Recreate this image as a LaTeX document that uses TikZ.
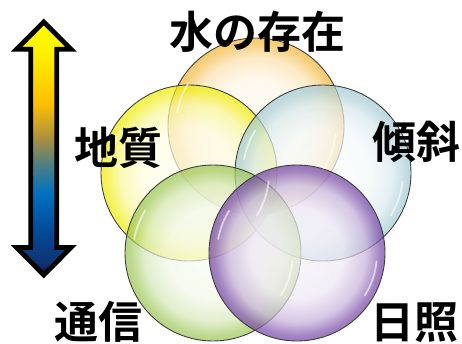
\documentclass[tikz,border=0pt]{standalone}
\usepackage{fontspec}
\newfontfamily\jpfont{Noto Sans CJK JP}[UprightFont=* Bold]
\usepackage{tikz}
\usetikzlibrary{positioning, shapes}
\usepackage{xcolor}

\definecolor{rimcol}{HTML}{F5B840}
\pgfdeclareradialshading[rimcol]{bubble}{\pgfpointorigin}{%
  color(0bp)=(rimcol!6!white); color(13bp)=(rimcol!12!white);
  color(19.5bp)=(rimcol!40!white); color(23.5bp)=(rimcol!90!white);
  color(25bp)=(rimcol); color(50bp)=(rimcol)}
\pgfdeclareverticalshading{arrowgrad}{100bp}{%
  color(0bp)=(black!70!blue); color(25bp)=(black!70!blue);
  color(27bp)=(rgb,255:red,16;green,48;blue,112);
  color(35bp)=(rgb,255:red,0;green,80;blue,160);
  color(41bp)=(rgb,255:red,0;green,112;blue,192);
  color(47bp)=(rgb,255:red,80;green,128;blue,128);
  color(52bp)=(rgb,255:red,168;green,144;blue,64);
  color(59bp)=(rgb,255:red,255;green,192;blue,0);
  color(69bp)=(rgb,255:red,255;green,240;blue,0);
  color(75bp)=(yellow); color(100bp)=(yellow)}

\tikzset{
  bubble/.style={circle, minimum size=176pt, inner sep=0pt, outer sep=0pt,
    /utils/exec={\colorlet{rimcol}{#1}}, shade, shading=bubble,
    fill opacity=0.7, draw=black!75, line width=0.9pt},
  gloss/.style={white, line width=1.8pt, line cap=round, opacity=0.6},
  term/.style={font=\jpfont\fontsize{44}{48}\selectfont, inner sep=0pt}
}

\begin{document}
\begin{tikzpicture}[x=1pt, y=1pt]
    \useasboundingbox (0,0) rectangle (462,343);

    % Arrow
    \shadedraw[shading=arrowgrad, line width=4.8pt, line join=miter]
        (43.8,321) -- (71,293.8) -- (56.8,293.8) -- (56.8,95.5) -- (71,95.5)
        -- (43.8,68) -- (16.6,95.5) -- (30.8,95.5) -- (30.8,293.8)
        -- (16.6,293.8) -- cycle;

    % Circles
    \node[bubble={rgb,255:red,245;green,180;blue,50}] (water) at (256,217) {};
    \node[bubble={rgb,255:red,240;green,236;blue,0}] (geology) at (189,170) {};
    \node[bubble={rgb,255:red,160;green,200;blue,210}] (tilt) at (323,170) {};
    \node[bubble={rgb,255:red,150;green,195;blue,75}] (comm) at (213,90) {};
    \node[bubble={rgb,255:red,110;green,60;blue,160}] (sun) at (297,90) {};

    % Gloss
    \foreach \n in {water, geology, tilt, comm, sun} {
        \draw[gloss] (\n.center) ++(-32:80) arc[start angle=-32, end angle=-6, radius=80];
        \draw[gloss] (\n.center) ++(148:80) arc[start angle=148, end angle=170, radius=80];
    }

    % Labels
    \node[term] (lwater) at (257,311) {水の存在};
    \node[term] (lgeology) at (118,195) {地質};
    \node[term] (ltilt) at (416,201) {傾斜};
    \node[term] (lcomm) at (98,21) {通信};
    \node[term] (lsun) at (414,20) {日照};
\end{tikzpicture}
\end{document}
